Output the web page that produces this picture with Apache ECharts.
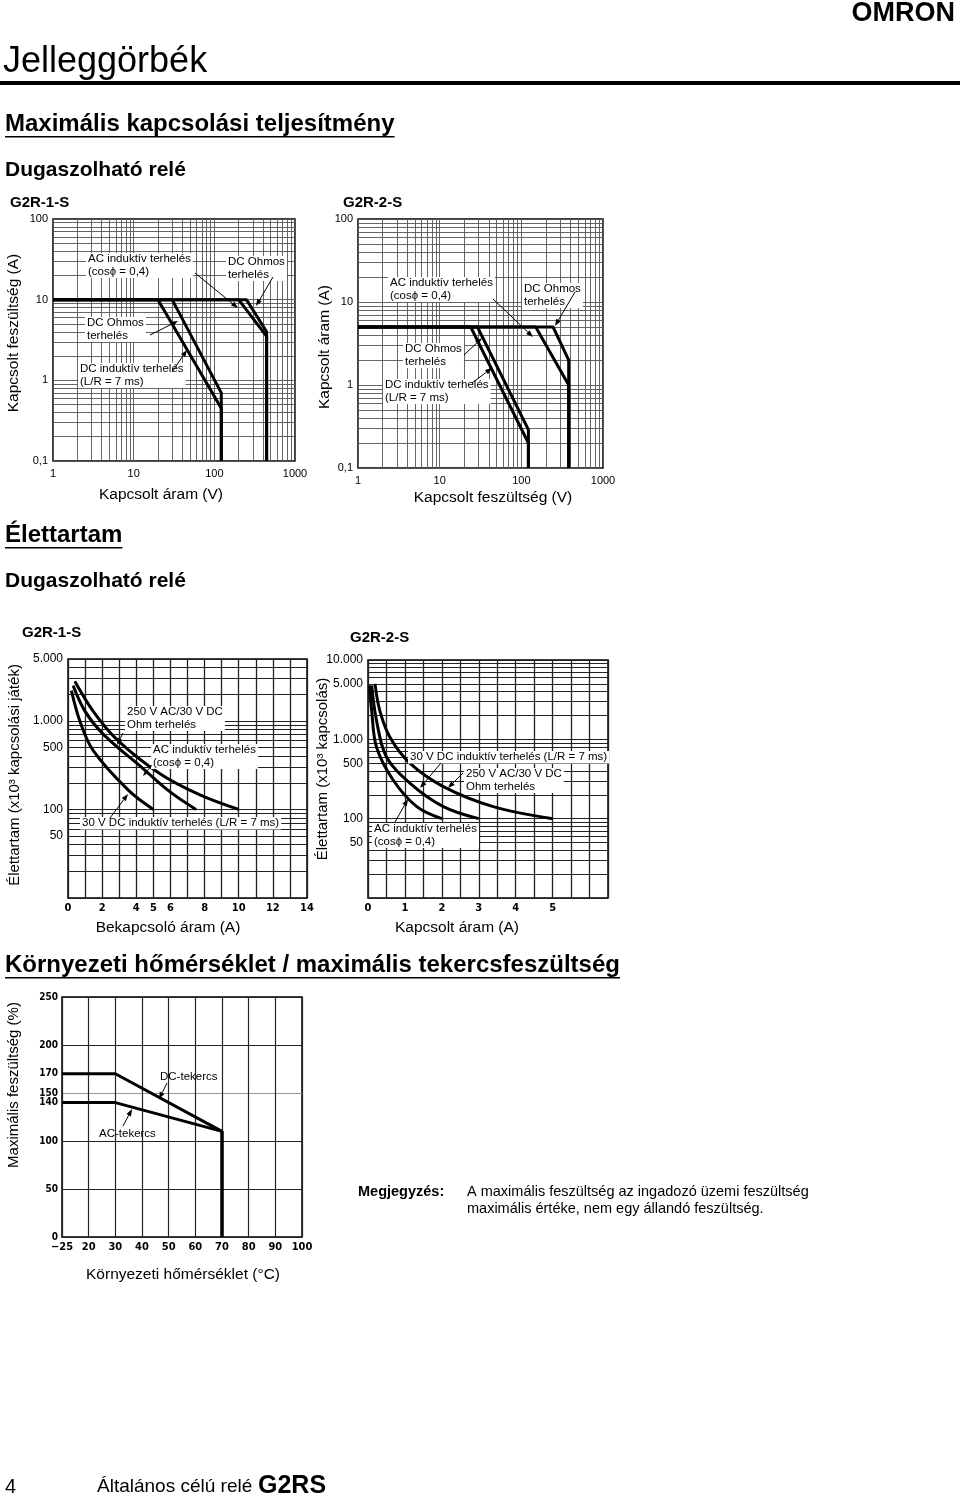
<!DOCTYPE html>
<html><head><meta charset="utf-8">
<script src="https://cdn.jsdelivr.net/npm/echarts@6/dist/echarts.min.js"></script>
<style>html,body{margin:0;padding:0;background:#fff}#c{width:960px;height:1499px}</style>
</head><body><div id="c"></div>
<script>
// ================= DATA =================
// Maximális kapcsolási teljesítmény – G2R-1-S  [V, A]
const perf1DcInductive = [[1,10],[20,10],[122,0.45],[122,0.1]];
const perf1DcOhmic     = [[1,10],[30,10],[122,0.7],[122,0.1]];
const perf1AcInductive = [[1,10],[200,10],[445,3.5],[445,0.1]];
const perf1DcOhmicHigh = [[1,10],[250,10],[445,4],[445,0.1]];
// G2R-2-S
const perf2DcInductive = [[1,5],[24,5],[122,0.2],[122,0.1]];
const perf2DcOhmic     = [[1,5],[29,5],[122,0.29],[122,0.1]];
const perf2AcInductive = [[1,5],[150,5],[380,1],[380,0.1]];
const perf2DcOhmicHigh = [[1,5],[245,5],[380,2],[380,0.1]];
const perfLogLabels1X = [1,10,100,1000];
const perfLogLabels1Y = [0.1,1,10,100];

// Élettartam – G2R-1-S  [A, x10^3]
const life1Ohm   = [[0.4,2800],[1.48,1280],[2.85,620],[5.39,253],[7.73,146],[10,100]];
const life1AcInd = [[0.3,2500],[1.0,1280],[2.07,705],[4.41,288],[5.98,158],[7.5,100]];
const life1DcInd = [[0.2,2200],[0.7,990],[1.48,461],[3.53,165],[5,100]];
const life1XLabels = [0,2,4,5,6,8,10,12,14];
const life1YLabels = [50,100,500,1000,5000];
// Élettartam – G2R-2-S
const life2Ohm   = [[0.19,5000],[0.32,2300],[0.59,1070],[1.14,497],[2.04,254],[3.39,142],[5,100]];
const life2DcInd = [[0.1,4800],[0.23,1730],[0.5,600],[1.14,279],[2.04,142],[3,100]];
const life2AcInd = [[0.04,4800],[0.1,2300],[0.23,800],[0.68,307],[1.32,142],[2,100]];
const life2XLabels = [0,1,2,3,4,5];
const life2YLabels = [50,100,500,1000,5000,10000];

// Környezeti hőmérséklet / maximális tekercsfeszültség  [°C, %]
const tempDcCoil = [[-25,170],[30,170],[70,110],[70,0]];
const tempAcCoil = [[-25,140],[30,140],[70,110],[70,0]];
const tempXLabels = [-25,20,30,40,50,60,70,80,90,100];
const tempYLabels = [0,50,100,140,150,170,200,250];
const tempYGrid = [0,50,100,150,200,250];

// ================= RENDER =================
const F = '"Liberation Sans", Arial, Helvetica, sans-serif';
const FN = '"Liberation Sans Narrow", "DejaVu Sans Condensed", "Liberation Sans", sans-serif';

function logGrid(min, max) {
  const out = [];
  for (let e = -2; e <= 5; e++) for (let m = 1; m <= 9; m++) {
    const v = +(m * Math.pow(10, e)).toPrecision(6);
    if (v >= min * 0.9999 && v <= max * 1.0001) out.push(v);
  }
  return out;
}
const comma = v => String(v).replace('.', ',');
const thous = v => v >= 1000 ? (v / 1000) + '.000' : String(v);

function logAxis(grid, min, max, labels, fmt, lineColor, lineW, fs, margin) {
  return {
    gridIndex: grid, type: 'log', logBase: 10, min, max,
    axisLine: {show: false},
    axisTick: {show: false, customValues: logGrid(min, max)},
    splitLine: {show: true, lineStyle: {color: lineColor, width: lineW}},
    axisLabel: {customValues: labels, formatter: fmt, color: '#000', fontFamily: F, fontSize: fs, margin}
  };
}

const grids = [
  {left: 53, top: 219, width: 242, height: 242},
  {left: 358, top: 219, width: 245, height: 249},
  {left: 68, top: 659, width: 239, height: 239},
  {left: 368, top: 660, width: 240, height: 238},
  {left: 62, top: 997, width: 240, height: 240}
].map(g => Object.assign({show: true, borderColor: '#000', borderWidth: 1.5, backgroundColor: 'rgba(0,0,0,0)', containLabel: false, outerBoundsMode: 'none'}, g));

const xAxes = [
  logAxis(0, 1, 1000, perfLogLabels1X, comma, '#555', 0.9, 11, 7),
  logAxis(1, 1, 1000, perfLogLabels1X, comma, '#555', 0.9, 11, 7),
  {gridIndex: 2, type: 'value', min: 0, max: 14, interval: 1,
   axisLine: {show: false}, axisTick: {show: false},
   splitLine: {show: true, lineStyle: {color: '#222', width: 1.3}},
   axisLabel: {customValues: life1XLabels, color: '#000', fontFamily: FN, fontWeight: 'bold', fontSize: 11, margin: 5}},
  {gridIndex: 3, type: 'value', min: 0, max: 6.5, interval: 0.5,
   axisLine: {show: false}, axisTick: {show: false},
   splitLine: {show: true, lineStyle: {color: '#222', width: 1.3}},
   axisLabel: {customValues: life2XLabels, color: '#000', fontFamily: FN, fontWeight: 'bold', fontSize: 11, margin: 5}},
  {gridIndex: 4, type: 'value', min: -25, max: 100,
   breaks: [{start: -20, end: 15, gap: 0}],
   breakArea: {show: false, itemStyle: {color: 'rgba(0,0,0,0)', borderColor: 'rgba(0,0,0,0)', borderWidth: 0}, zigzagAmplitude: 0},
   axisLine: {show: false},
   axisTick: {show: false, customValues: tempXLabels},
   splitLine: {show: true, lineStyle: {color: '#222', width: 1.2}},
   axisLabel: {customValues: tempXLabels, formatter: v => v < 0 ? '\u2212' + Math.abs(v) : String(v), color: '#000', fontFamily: FN, fontWeight: 'bold', fontSize: 11, margin: 5}}
];
const yAxes = [
  logAxis(0, 0.1, 100, perfLogLabels1Y, comma, '#555', 0.9, 11, 5),
  logAxis(1, 0.1, 100, perfLogLabels1Y, comma, '#555', 0.9, 11, 5),
  logAxis(2, 10, 5000, life1YLabels, thous, '#222', 1.2, 12, 5),
  logAxis(3, 10, 10000, life2YLabels, thous, '#222', 1.2, 12, 5),
  {gridIndex: 4, type: 'value', min: 0, max: 250,
   axisLine: {show: false},
   axisTick: {show: false, customValues: tempYGrid},
   splitLine: {show: true, lineStyle: {color: ['#222','#222','#222','#999','#222','#222'], width: 1.2}},
   axisLabel: {customValues: tempYLabels, color: '#000', fontFamily: FN, fontWeight: 'bold', fontSize: 10, margin: 4}}
];

function ln(data, i, smooth) {
  return {type: 'line', xAxisIndex: i, yAxisIndex: i, data, symbol: 'none', smooth: smooth || false,
          lineStyle: {color: '#000', width: 3}, silent: true, z: 5, animation: false};
}
const series = [
  ln(perf1DcInductive, 0), ln(perf1DcOhmic, 0), ln(perf1AcInductive, 0), ln(perf1DcOhmicHigh, 0),
  ln(perf2DcInductive, 1), ln(perf2DcOhmic, 1), ln(perf2AcInductive, 1), ln(perf2DcOhmicHigh, 1),
  ln(life1Ohm, 2, 0.35), ln(life1AcInd, 2, 0.35), ln(life1DcInd, 2, 0.35),
  ln(life2Ohm, 3, 0.35), ln(life2DcInd, 3, 0.35), ln(life2AcInd, 3, 0.35),
  ln(tempDcCoil, 4), ln(tempAcCoil, 4)
];

// ---------- page graphics ----------
const mctx = document.createElement('canvas').getContext('2d');
function tw(t, size, weight) { mctx.font = (weight || 'normal') + ' ' + size + 'px ' + F; return mctx.measureText(t).width; }
const G = [];
function txt(t, x, y, size, opt) {
  opt = opt || {};
  G.push({type: 'text', x, y, rotation: opt.rot || 0, z: 50,
    style: {text: t, fill: '#000', fontFamily: opt.family || F, fontSize: size, fontWeight: opt.weight || 'normal',
            align: opt.align || 'left', verticalAlign: opt.va || 'middle', lineHeight: opt.lh,
            backgroundColor: opt.bg, padding: opt.bg ? [0, 2] : 0}});
}
function heading(t, x, y, size, uy) {
  txt(t, x, y, size, {weight: 'bold'});
  const w = tw(t, size, 'bold');
  G.push({type: 'rect', shape: {x: x, y: uy, width: w, height: 1.6}, style: {fill: '#000'}, z: 50});
}
function note(t, x, y) { txt(t, x, y, 11.5, {va: 'top', bg: '#fff', lh: 12.5}); }
function arrow(x1, y1, x2, y2) {
  const a = Math.atan2(y2 - y1, x2 - x1), L = 7, W = 2.6;
  const bx = x2 - L * Math.cos(a), by = y2 - L * Math.sin(a);
  const px = -Math.sin(a) * W, py = Math.cos(a) * W;
  G.push({type: 'line', shape: {x1, y1, x2: bx, y2: by}, style: {stroke: '#000', lineWidth: 1}, z: 60});
  G.push({type: 'polygon', shape: {points: [[x2, y2], [bx + px, by + py], [bx - px, by - py]]}, style: {fill: '#000'}, z: 60});
}

// header
txt('OMRON', 955, 14, 27, {weight: 'bold', align: 'right'});
txt('Jelleggörbék', 3, 62, 36);
G.push({type: 'rect', shape: {x: 0, y: 81, width: 960, height: 4}, style: {fill: '#000'}, z: 50});
heading('Maximális kapcsolási teljesítmény', 5, 124, 24, 136);
txt('Dugaszolható relé', 5, 170, 21, {weight: 'bold'});
txt('G2R-1-S', 10, 203, 15, {weight: 'bold'});
txt('G2R-2-S', 343, 203, 15, {weight: 'bold'});

// perf chart axis names
txt('Kapcsolt feszültség (A)', 14, 333, 15.5, {rot: Math.PI / 2, align: 'center'});
txt('Kapcsolt áram (V)', 161, 495, 15.5, {align: 'center'});
txt('Kapcsolt áram (A)', 325, 347, 15.5, {rot: Math.PI / 2, align: 'center'});
txt('Kapcsolt feszültség (V)', 493, 498, 15.5, {align: 'center'});

// perf chart 1 annotations
note('AC induktív terhelés\n(cosϕ = 0,4)', 86, 253);
note('DC Ohmos\nterhelés', 226, 256);
note('DC Ohmos\nterhelés', 85, 317);
note('DC induktív terhelés\n(L/R = 7 ms)', 78, 363);
arrow(195, 273, 238, 308);
arrow(273, 277, 256, 306);
arrow(150, 335, 178, 321);
arrow(172, 372, 187, 350);
// perf chart 2 annotations
note('AC induktív terhelés\n(cosϕ = 0,4)', 388, 277);
note('DC Ohmos\nterhelés', 522, 283);
note('DC Ohmos\nterhelés', 403, 343);
note('DC induktív terhelés\n(L/R = 7 ms)', 383, 379);
arrow(493, 299, 533, 337);
arrow(575, 292, 555, 326);
arrow(464, 355, 482, 338);
arrow(472, 383, 492, 368);

// life section
heading('Élettartam', 5, 535, 24, 547);
txt('Dugaszolható relé', 5, 581, 21, {weight: 'bold'});
txt('G2R-1-S', 22, 633, 15, {weight: 'bold'});
txt('G2R-2-S', 350, 638, 15, {weight: 'bold'});
txt('Élettartam (x10³ kapcsolási játék)', 15, 775, 15, {rot: Math.PI / 2, align: 'center'});
txt('Bekapcsoló áram (A)', 168, 928, 15.5, {align: 'center'});
txt('Élettartam (x10³ kapcsolás)', 323, 769, 15, {rot: Math.PI / 2, align: 'center'});
txt('Kapcsolt áram (A)', 457, 928, 15.5, {align: 'center'});

note('250 V AC/30 V DC\nOhm terhelés', 125, 706);
note('AC induktív terhelés\n(cosϕ = 0,4)', 151, 744);
note('30 V DC induktív terhelés (L/R = 7 ms)', 80, 817);
arrow(123, 733, 117, 745);
arrow(152, 765, 143, 776);
arrow(110, 818, 128, 794);

note('30 V DC induktív terhelés (L/R = 7 ms)', 408, 751);
note('250 V AC/30 V DC\nOhm terhelés', 464, 768);
note('AC induktív terhelés\n(cosϕ = 0,4)', 372, 823);
arrow(441, 763, 420, 788);
arrow(463, 773, 448, 788);
arrow(395, 822, 408, 799);

// temperature section
heading('Környezeti hőmérséklet / maximális tekercsfeszültség', 5, 965, 24, 977);
txt('Maximális feszültség (%)', 14, 1085, 15, {rot: Math.PI / 2, align: 'center'});
txt('Környezeti hőmérséklet (°C)', 183, 1275, 15.5, {align: 'center'});
txt('DC-tekercs', 160, 1077, 11.5);
txt('AC-tekercs', 99, 1134, 11.5);
arrow(167, 1083, 159, 1099);
arrow(123, 1126, 132, 1109);

txt('Megjegyzés:', 358, 1192, 14.5, {weight: 'bold'});
txt('A maximális feszültség az ingadozó üzemi feszültség', 467, 1192, 14.5);
txt('maximális értéke, nem egy állandó feszültség.', 467, 1209, 14.5);

// footer
txt('4', 5, 1487, 20);
txt('Általános célú relé', 97, 1487, 19);
txt('G2RS', 258, 1486, 25, {weight: 'bold'});

const chart = echarts.init(document.getElementById('c'), null, {renderer: 'canvas', width: 960, height: 1499});
chart.setOption({
  animation: false,
  backgroundColor: '#fff',
  grid: grids,
  xAxis: xAxes,
  yAxis: yAxes,
  series,
  graphic: {elements: G}
});
</script>
</body></html>
